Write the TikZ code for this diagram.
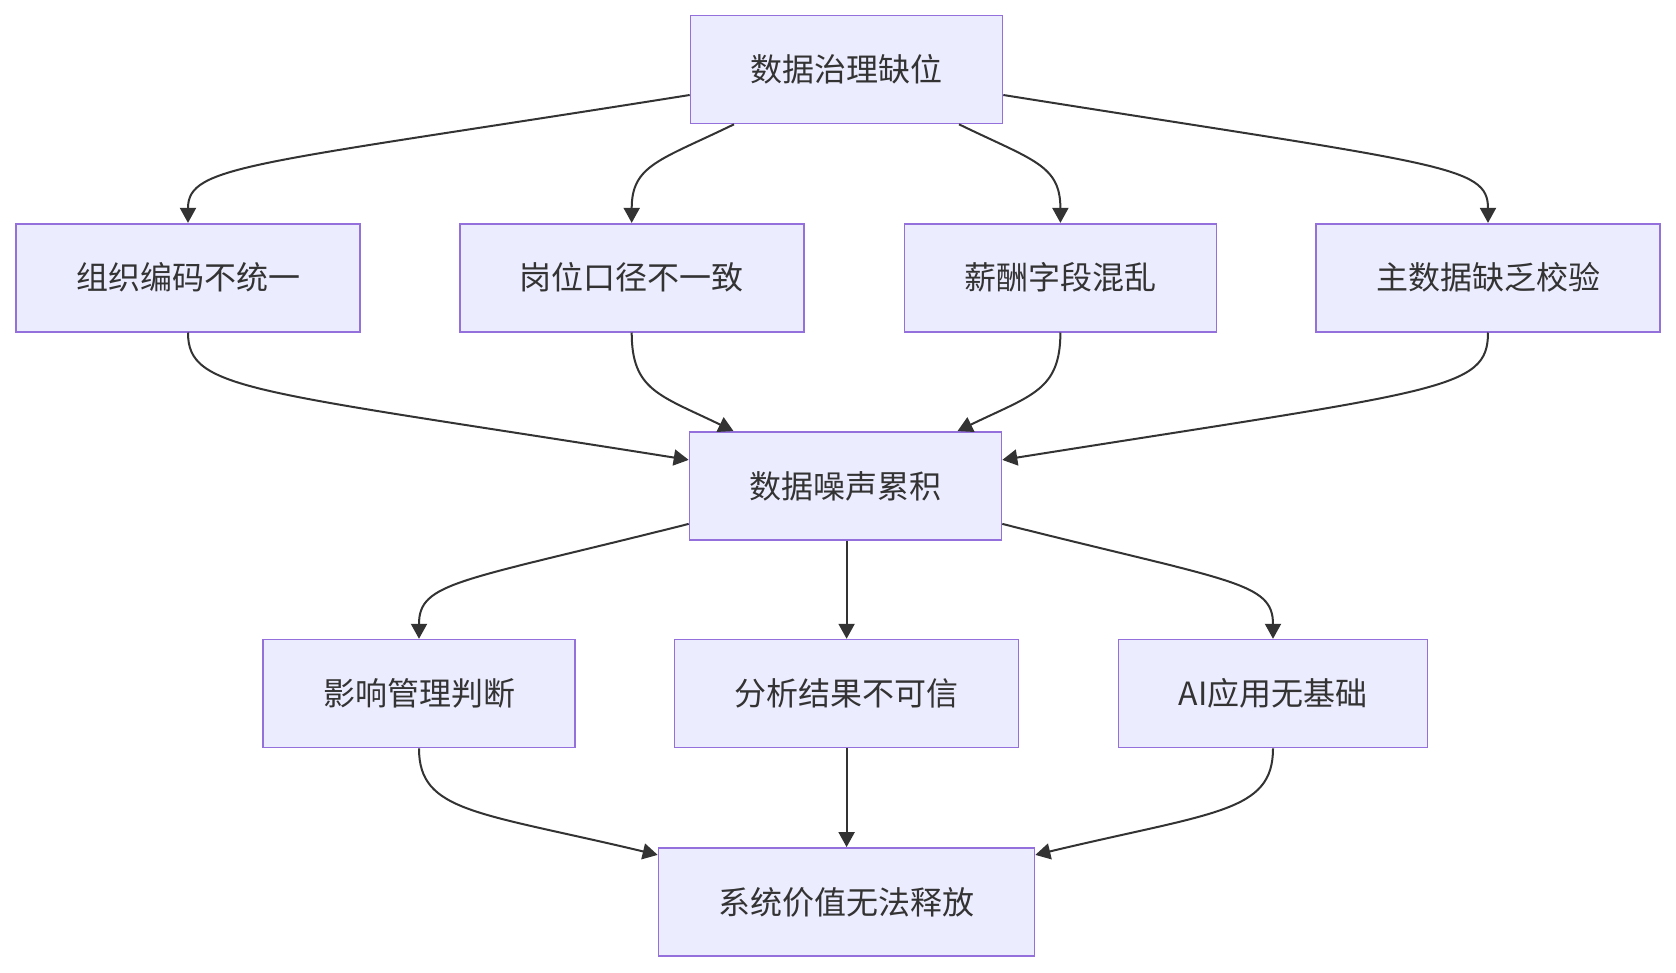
\documentclass[tikz,border=0pt]{standalone}
\usepackage{fontspec}
\setmainfont{Noto Sans CJK SC}
\usepackage{tikz}
\usetikzlibrary{arrows.meta, positioning, calc}
\definecolor{boxfill}{HTML}{ECECFF}
\definecolor{boxline}{HTML}{9370DB}
\definecolor{ink}{HTML}{333333}

\begin{document}
\begin{tikzpicture}[x=1pt, y=1pt,
    box/.style={rectangle, draw=boxline, fill=boxfill, line width=1.6pt,
      minimum height=108pt, inner xsep=60pt, text=ink,
      font=\fontsize{32pt}{38pt}\selectfont},
    flow/.style={draw=ink, line width=2pt, -{Triangle[length=15pt,width=16pt]}}]
\useasboundingbox (0,0) rectangle (1676,-972);

%% TOP: root cause
\node[box] (gov) at (846.5,-69.5) {数据治理缺位};

%% second row: four symptoms
\node[box] (orgcode)  at (188,-277.7)   {组织编码不统一};
\node[box] (postdef)  at (631.7,-277.7) {岗位口径不一致};
\node[box] (payfield) at (1060.4,-277.7) {薪酬字段混乱};
\node[box] (mdcheck)  at (1488,-277.7)  {主数据缺乏校验};

%% middle
\node[box] (noise) at (845.5,-485.9) {数据噪声累积};

%% fourth row: effects
\node[box] (mgmt)     at (419,-693.6)   {影响管理判断};
\node[box] (analysis) at (846.6,-693.6) {分析结果不可信};
\node[box] (aibase)   at (1273,-693.6)  {AI应用无基础};

%% bottom
\node[box] (sysval) at (846.5,-901.9) {系统价值无法释放};

%% root -> symptoms
\draw[flow] ([yshift=-25.5pt]gov.west) .. controls +(-440,-70) and +(0,58) .. (orgcode.north);
\draw[flow] ([xshift=-112.5pt]gov.south) .. controls +(-74,-36) and +(0,58) .. (postdef.north);
\draw[flow] ([xshift=112.5pt]gov.south) .. controls +(74,-36) and +(0,58) .. (payfield.north);
\draw[flow] ([yshift=-25.5pt]gov.east) .. controls +(440,-70) and +(0,58) .. (mdcheck.north);

%% symptoms -> noise
\draw[flow] (orgcode.south) .. controls +(0,-58) and +(-440,70) .. ([yshift=26pt]noise.west);
\draw[flow] (postdef.south) .. controls +(0,-58) and +(-74,36) .. ([xshift=-112pt]noise.north);
\draw[flow] (payfield.south) .. controls +(0,-58) and +(74,36) .. ([xshift=112pt]noise.north);
\draw[flow] (mdcheck.south) .. controls +(0,-58) and +(440,70) .. ([yshift=26pt]noise.east);

%% noise -> effects
\draw[flow] ([yshift=-38pt]noise.west) .. controls +(-230,-58) and +(0,57) .. (mgmt.north);
\draw[flow] (analysis.north |- noise.south) -- (analysis.north);
\draw[flow] ([yshift=-38pt]noise.east) .. controls +(230,-58) and +(0,57) .. (aibase.north);

%% effects -> bottom
\draw[flow] (mgmt.south) .. controls +(0,-64) and +(-180,43) .. ([yshift=47pt]sysval.west);
\draw[flow] (analysis.south) -- (sysval.north -| analysis.south);
\draw[flow] (aibase.south) .. controls +(0,-64) and +(180,43) .. ([yshift=47pt]sysval.east);
\end{tikzpicture}
\end{document}
